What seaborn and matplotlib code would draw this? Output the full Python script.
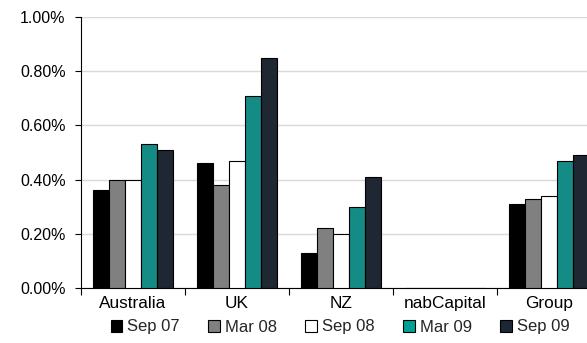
import matplotlib
matplotlib.use("Agg")
import matplotlib.pyplot as plt
import seaborn as sns
import pandas as pd
from matplotlib.ticker import FuncFormatter, MultipleLocator, FixedLocator
from matplotlib.patches import Patch

regions = ["Australia", "UK", "NZ", "nabCapital", "Group"]
periods = ["Sep 07", "Mar 08", "Sep 08", "Mar 09", "Sep 09"]
sep07 = [0.36, 0.46, 0.13, 0.0, 0.31]
mar08 = [0.40, 0.38, 0.22, 0.0, 0.33]
sep08 = [0.40, 0.47, 0.20, 0.0, 0.34]
mar09 = [0.53, 0.71, 0.30, 0.0, 0.47]
sep09 = [0.51, 0.85, 0.41, 0.0, 0.49]
colors = ["#000000", "#808080", "#FFFFFF", "#00A096", "#1C2735"]

series = [sep07, mar08, sep08, mar09, sep09]
rows = []
for p, vals in zip(periods, series):
    for r, v in zip(regions, vals):
        rows.append({"region": r, "period": p, "value": v})
df = pd.DataFrame(rows)

sns.set_style("white")
plt.rcParams["font.family"] = ["Liberation Sans", "DejaVu Sans"]

fig = plt.figure(figsize=(5.87, 3.43), dpi=100)
W, H = 587, 343
ax = fig.add_axes([81 / W, (H - 288) / H, 520 / W, 271 / H])

sns.barplot(data=df, x="region", y="value", hue="period", order=regions,
            hue_order=periods, palette=colors, edgecolor="black", linewidth=0.8,
            width=0.77, gap=0, ax=ax, legend=False, zorder=3)

ax.set_xlim(-0.5, len(regions) - 0.5)
ax.set_ylim(0, 1.0)
ax.yaxis.set_major_locator(MultipleLocator(0.2))
ax.yaxis.set_major_formatter(FuncFormatter(lambda v, p: f"{v:.2f}%"))
ax.grid(axis="y", color="#D9D9D9", linewidth=1, zorder=0)
ax.set_axisbelow(True)
ax.set_xlabel("")
ax.set_ylabel("")

for s in ["top", "right"]:
    ax.spines[s].set_visible(False)
for s in ["left", "bottom"]:
    ax.spines[s].set_color("black")
    ax.spines[s].set_linewidth(0.8)

ax.tick_params(axis="x", which="major", length=0, labelsize=12.4, pad=6, colors="black")
ax.xaxis.set_minor_locator(FixedLocator([i - 0.5 for i in range(len(regions) + 1)]))
ax.tick_params(axis="x", which="minor", length=5, width=0.8, direction="out", color="black", bottom=True)
ax.tick_params(axis="y", length=4, width=0.8, direction="out", labelsize=11.5, pad=7, left=True, colors="black")

handles = [Patch(facecolor=c, edgecolor="black", linewidth=0.8) for c in colors]
fig.legend(handles, periods, loc="center", bbox_to_anchor=(340 / W, 1 - 327 / H),
           ncol=5, frameon=False, fontsize=12, handlelength=0.7, handleheight=0.7,
           handletextpad=0.3, columnspacing=1.7, borderaxespad=0)

fig.savefig("out.png", dpi=100)
